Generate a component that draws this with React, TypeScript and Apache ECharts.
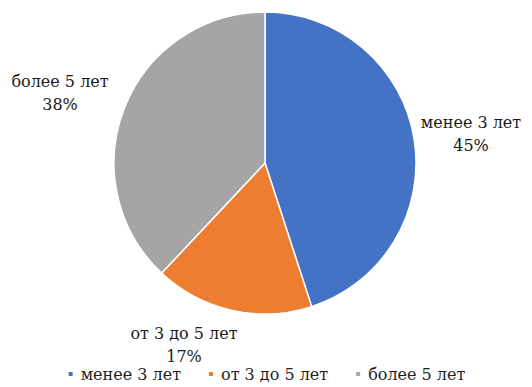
import React, { useEffect, useRef } from "react";
import * as echarts from "echarts";

const categories = ["менее 3 лет", "от 3 до 5 лет", "более 5 лет"];
const values = [45, 17, 38];
const colors = ["#4472C4", "#ED7D31", "#A5A5A5"];

export default function App() {
  const ref = useRef<HTMLDivElement>(null);
  useEffect(() => {
    if (!ref.current) return;
    const chart = echarts.init(ref.current, undefined, { renderer: "svg" });
    const font = "DejaVu Serif";
    const labelPos = [
      [463, 126],
      [176, 337],
      [52, 85],
    ];
    chart.setOption({
      animation: false,
      color: colors,
      textStyle: { fontFamily: font },
      legend: {
        data: categories,
        top: 353,
        left: "center",
        icon: "path://M0,0H6V6H0Z",
        itemWidth: 10,
        itemHeight: 6,
        itemGap: 26,
        textStyle: { fontFamily: font, fontSize: 16, color: "#1f1f1f" },
      },
      series: [
        {
          type: "pie",
          center: [257, 155],
          radius: 151,
          startAngle: 90,
          clockwise: true,
          itemStyle: { borderColor: "#fff", borderWidth: 1.5 },
          label: {
            show: true,
            position: "outside",
            formatter: "{b}\n{d}%",
            fontFamily: font,
            fontSize: 16,
            lineHeight: 23,
            color: "#1a1a1a",
            align: "center",
            overflow: "none",
          },
          labelLine: { show: false },
          labelLayout: (p: any) => ({
            x: labelPos[p.dataIndex][0],
            y: labelPos[p.dataIndex][1],
            align: "center",
            verticalAlign: "middle",
          }),
          data: categories.map((c, i) => ({ name: c, value: values[i] })),
        },
      ],
    });
    return () => chart.dispose();
  }, []);
  return <div ref={ref} style={{ width: 516, height: 379 }} />;
}
